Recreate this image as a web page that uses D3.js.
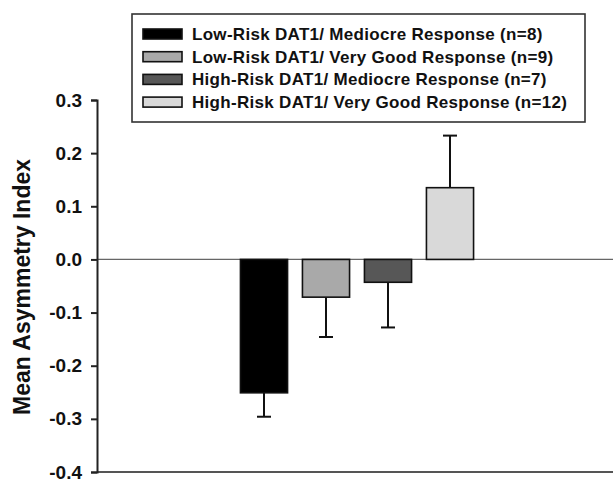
<!DOCTYPE html>
<html>
<head>
<meta charset="utf-8">
<script src="https://cdn.jsdelivr.net/npm/d3@7"></script>
<style>
    body { margin: 0; background: #fff; }
    #chart-area { width: 613px; height: 480px; }
    text { font-family: "Liberation Sans", Arial, sans-serif; font-weight: bold; fill: #111; }
</style>
</head>
<body>
<div id="chart-area"></div>
<script>
/* * * * * * * * * * * * * *
*          BarVis          *
* * * * * * * * * * * * * */

// groups, in legend order
let groups = [
    "Low-Risk DAT1/ Mediocre Response (n=8)",
    "Low-Risk DAT1/ Very Good Response (n=9)",
    "High-Risk DAT1/ Mediocre Response (n=7)",
    "High-Risk DAT1/ Very Good Response (n=12)"
];
let means = [-0.251, -0.071, -0.043, 0.135];
let errors = [0.045, 0.075, 0.085, 0.098];
let fills = ["#000000", "#a9a9a9", "#575757", "#d9d9d9"];
let yTicks = [0.3, 0.2, 0.1, 0.0, -0.1, -0.2, -0.3, -0.4];

class BarVis {

    constructor(parentElement) {
        this.parentElement = parentElement;
        this.data = groups.map((g, i) => ({name: g, mean: means[i], err: errors[i], fill: fills[i]}));
        this.initVis();
    }

    initVis() {
        let vis = this;

        vis.margin = {top: 100, right: 0, bottom: 8, left: 97};
        vis.width = 613 - vis.margin.left - vis.margin.right;
        vis.height = 480 - vis.margin.top - vis.margin.bottom;

        vis.root = d3.select("#" + vis.parentElement).append("svg")
            .attr("width", 613)
            .attr("height", 480);

        vis.svg = vis.root.append("g")
            .attr("transform", `translate(${vis.margin.left},${vis.margin.top})`);

        // scales
        vis.x = d3.scaleBand()
            .domain(groups)
            .range([136, 384])
            .paddingInner(0.24)
            .paddingOuter(0.12);

        vis.y = d3.scaleLinear()
            .domain([-0.4, 0.3])
            .range([vis.height, 0]);

        // zero line and bottom frame line
        vis.svg.append("line")
            .attr("x1", 0).attr("x2", vis.width)
            .attr("y1", vis.y(0)).attr("y2", vis.y(0))
            .attr("stroke", "#666").attr("stroke-width", 1.2);

        vis.svg.append("line")
            .attr("x1", 0).attr("x2", vis.width)
            .attr("y1", vis.y(-0.4)).attr("y2", vis.y(-0.4))
            .attr("stroke", "#555").attr("stroke-width", 2);

        // y axis
        vis.yAxis = d3.axisLeft(vis.y)
            .tickValues(yTicks)
            .tickSize(6)
            .tickPadding(9)
            .tickFormat(d => d.toFixed(1));

        let ax = vis.svg.append("g").attr("class", "y-axis").call(vis.yAxis);
        ax.select(".domain").attr("stroke", "#222").attr("stroke-width", 2);
        ax.selectAll(".tick line").attr("stroke", "#222").attr("stroke-width", 2);
        ax.selectAll(".tick text")
            .style("font-size", "19px")
            .style("font-family", "'Liberation Sans', Arial, sans-serif")
            .style("font-weight", "bold")
            .attr("fill", "#111");

        // y label
        vis.root.append("text")
            .attr("transform", "rotate(-90)")
            .attr("x", -287)
            .attr("y", 30)
            .style("text-anchor", "middle")
            .style("font-size", "23px")
            .text("Mean Asymmetry Index");

        vis.updateVis();
        vis.drawLegend();
    }

    updateVis() {
        let vis = this;

        // error bars (one-sided, away from zero)
        let eb = vis.svg.selectAll(".errbar")
            .data(vis.data)
            .enter().append("g")
            .attr("class", "errbar")
            .attr("stroke", "#111")
            .attr("stroke-width", 2);

        eb.append("line")
            .attr("x1", d => vis.x(d.name) + vis.x.bandwidth() / 2)
            .attr("x2", d => vis.x(d.name) + vis.x.bandwidth() / 2)
            .attr("y1", d => vis.y(d.mean))
            .attr("y2", d => vis.y(d.mean + Math.sign(d.mean) * d.err));

        eb.append("line")
            .attr("x1", d => vis.x(d.name) + vis.x.bandwidth() / 2 - 7)
            .attr("x2", d => vis.x(d.name) + vis.x.bandwidth() / 2 + 7)
            .attr("y1", d => vis.y(d.mean + Math.sign(d.mean) * d.err))
            .attr("y2", d => vis.y(d.mean + Math.sign(d.mean) * d.err));

        // bars
        vis.svg.selectAll(".bar")
            .data(vis.data)
            .enter().append("rect")
            .attr("class", "bar")
            .attr("x", d => vis.x(d.name))
            .attr("width", vis.x.bandwidth())
            .attr("y", d => vis.y(Math.max(0, d.mean)))
            .attr("height", d => Math.abs(vis.y(d.mean) - vis.y(0)))
            .attr("fill", d => d.fill)
            .attr("stroke", "#111")
            .attr("stroke-width", 1.6);
    }

    drawLegend() {
        let vis = this;

        let lg = vis.root.append("g").attr("class", "legend");

        lg.append("rect")
            .attr("x", 132).attr("y", 14)
            .attr("width", 453).attr("height", 108)
            .attr("fill", "#fff")
            .attr("stroke", "#333")
            .attr("stroke-width", 1.6);

        let rows = lg.selectAll(".row")
            .data(vis.data)
            .enter().append("g")
            .attr("class", "row")
            .attr("transform", (d, i) => `translate(0,${34 + i * 22.7})`);

        rows.append("rect")
            .attr("x", 143).attr("y", -5)
            .attr("width", 39).attr("height", 10)
            .attr("fill", d => d.fill)
            .attr("stroke", "#111")
            .attr("stroke-width", 1.6);

        rows.append("text")
            .attr("x", 192)
            .attr("y", 6)
            .style("font-size", "17px")
            .style("letter-spacing", "0.3px")
            .text(d => d.name);
    }
}

new BarVis("chart-area");
</script>
</body>
</html>
